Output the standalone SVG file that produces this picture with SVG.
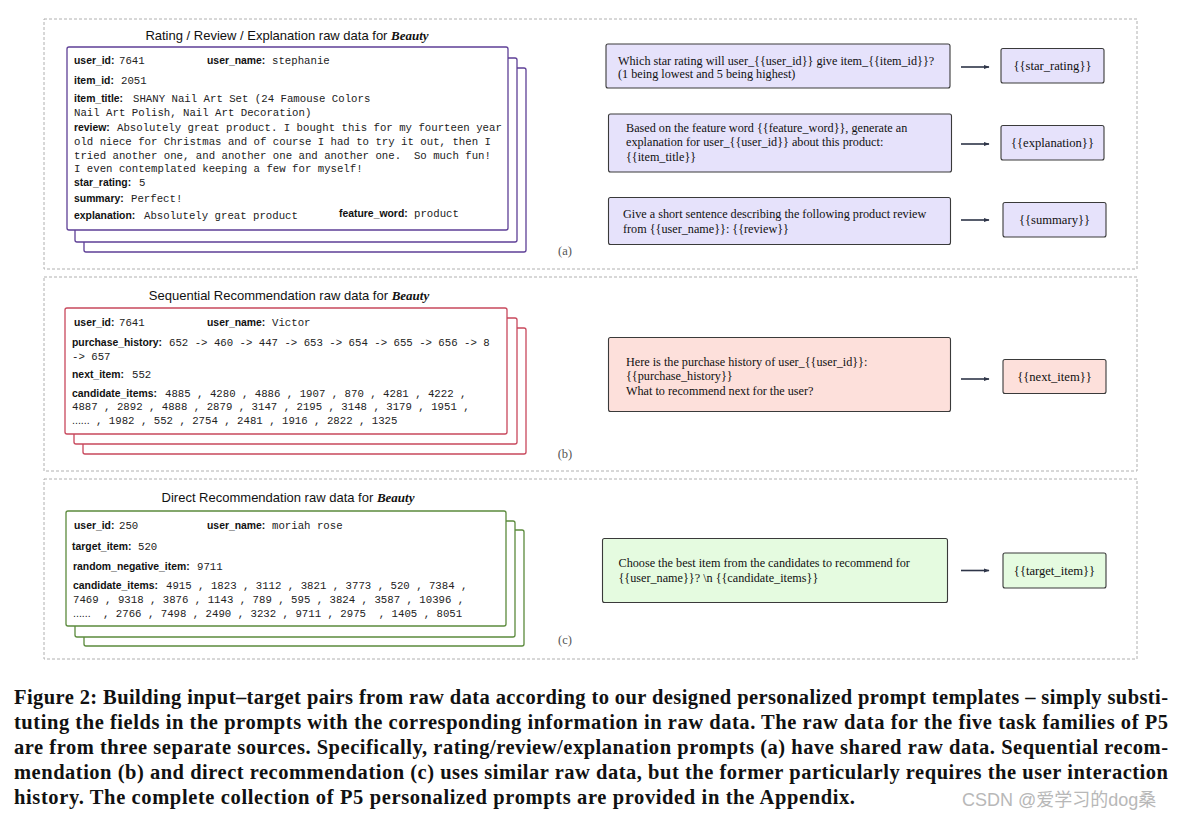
<svg xmlns="http://www.w3.org/2000/svg" width="1180" height="818" viewBox="0 0 1180 818">
<defs>
<marker id="ah" viewBox="0 0 10 10" refX="9" refY="5" markerWidth="6" markerHeight="6" orient="auto" markerUnits="userSpaceOnUse">
<path d="M0,1.5 L10,5 L0,8.5 z" fill="#2e3548"/>
</marker>
<style>
.panel{fill:none;stroke:#b0b0b0;stroke-width:1;stroke-dasharray:3,2}
.title{font-family:"Liberation Sans",Arial,sans-serif;font-size:13px;fill:#111;text-anchor:middle}
.beauty{font-family:"Liberation Serif","Times New Roman",serif;font-style:italic;font-weight:bold}
.pu{fill:#fff;stroke:#5e3f96;stroke-width:1.3}
.rd{fill:#fff;stroke:#c8485c;stroke-width:1.3}
.gr{fill:#fff;stroke:#5b8a3c;stroke-width:1.3}
.lb{font-family:"Liberation Sans",Arial,sans-serif;font-size:10.4px;font-weight:bold;fill:#111}
.mono{font-family:"Liberation Mono","Courier New",monospace;font-size:10.7px;fill:#222;white-space:pre}
.dots{font-family:"Liberation Sans",Arial,sans-serif;font-size:10.6px;fill:#222}
.tp{stroke:#3a3a3a;stroke-width:1.1}
.tpa{fill:#e6e2fb}
.tpb{fill:#fde0db}
.tpc{fill:#e5fbe0}
.st{font-family:"Liberation Serif","Times New Roman",serif;font-size:12.2px;fill:#111;white-space:pre}
.oc{font-family:"Liberation Serif","Times New Roman",serif;font-size:12.6px;fill:#111;text-anchor:middle}
.conn{stroke:#2e3548;stroke-width:1.6;fill:none}
.sub{font-family:"Liberation Serif","Times New Roman",serif;font-size:12.5px;fill:#555;text-anchor:middle}
.cap{font-family:"Liberation Serif","Times New Roman",serif;font-size:20.5px;font-weight:bold;fill:#111}
.wm{font-family:"Liberation Sans","Noto Sans CJK SC",sans-serif;font-size:18px;fill:#b8b8b8}
</style>
</defs>
<rect width="1180" height="818" fill="#fff"/>

<!-- panels -->
<g id="panels">
<rect class="panel" x="44" y="19" width="1093" height="250"/>
<rect class="panel" x="44" y="277" width="1093" height="194"/>
<rect class="panel" x="44" y="479" width="1093" height="180"/>
<text class="sub" x="565" y="255">(a)</text>
<text class="sub" x="565" y="458">(b)</text>
<text class="sub" x="565" y="644">(c)</text>
</g>

<!-- panel a raw data -->
<g id="raw-a">
<text class="title" x="287" y="39.5">Rating / Review / Explanation raw data for <tspan class="beauty">Beauty</tspan></text>
<rect class="pu" x="84" y="68" width="442" height="184" rx="2"/>
<rect class="pu" x="75" y="58" width="442" height="184" rx="2"/>
<rect class="pu" x="67" y="47" width="441" height="183" rx="2"/>
<text class="lb" x="74" y="64">user_id:</text><text class="mono" x="119" y="64">7641</text>
<text class="lb" x="207" y="64">user_name:</text><text class="mono" x="272" y="64">stephanie</text>
<text class="lb" x="74" y="84">item_id:</text><text class="mono" x="121" y="84">2051</text>
<text class="lb" x="74" y="102">item_title:</text><text class="mono" x="133" y="102">SHANY Nail Art Set (24 Famouse Colors</text>
<text class="mono" x="74" y="116">Nail Art Polish, Nail Art Decoration)</text>
<text class="lb" x="74" y="131">review:</text><text class="mono" x="117" y="131">Absolutely great product. I bought this for my fourteen year</text>
<text class="mono" x="74" y="145">old niece for Christmas and of course I had to try it out, then I</text>
<text class="mono" x="74" y="159">tried another one, and another one and another one.  So much fun!</text>
<text class="mono" x="74" y="172">I even contemplated keeping a few for myself!</text>
<text class="lb" x="74" y="186">star_rating:</text><text class="mono" x="139" y="186">5</text>
<text class="lb" x="74" y="202">summary:</text><text class="mono" x="131" y="202">Perfect!</text>
<text class="lb" x="74" y="219">explanation:</text><text class="mono" x="144" y="219">Absolutely great product</text>
<text class="lb" x="339" y="217">feature_word:</text><text class="mono" x="414" y="217">product</text>
</g>

<!-- panel b raw data -->
<g id="raw-b">
<text class="title" x="289" y="299.5">Sequential Recommendation raw data for <tspan class="beauty">Beauty</tspan></text>
<rect class="rd" x="83" y="328" width="443" height="126" rx="2"/>
<rect class="rd" x="74" y="318" width="443" height="126" rx="2"/>
<rect class="rd" x="65" y="308" width="442" height="126" rx="2"/>
<text class="lb" x="74" y="326">user_id:</text><text class="mono" x="119" y="326">7641</text>
<text class="lb" x="207" y="326">user_name:</text><text class="mono" x="272" y="326">Victor</text>
<text class="lb" x="72" y="346">purchase_history:</text><text class="mono" x="169" y="346">652 -&gt; 460 -&gt; 447 -&gt; 653 -&gt; 654 -&gt; 655 -&gt; 656 -&gt; 8</text>
<text class="mono" x="72" y="360">-&gt; 657</text>
<text class="lb" x="72" y="378">next_item:</text><text class="mono" x="132" y="378">552</text>
<text class="lb" x="72" y="397">candidate_items:</text><text class="mono" x="165" y="397">4885 , 4280 , 4886 , 1907 , 870 , 4281 , 4222 ,</text>
<text class="mono" x="72" y="410">4887 , 2892 , 4888 , 2879 , 3147 , 2195 , 3148 , 3179 , 1951 ,</text>
<text class="dots" x="72" y="424">......</text><text class="mono" x="96" y="424">, 1982 , 552 , 2754 , 2481 , 1916 , 2822 , 1325</text>
</g>

<!-- panel c raw data -->
<g id="raw-c">
<text class="title" x="288" y="501.5">Direct Recommendation raw data for <tspan class="beauty">Beauty</tspan></text>
<rect class="gr" x="84" y="530" width="440" height="116" rx="2"/>
<rect class="gr" x="75" y="521" width="440" height="116" rx="2"/>
<rect class="gr" x="66" y="511" width="440" height="115" rx="2"/>
<text class="lb" x="74" y="529">user_id:</text><text class="mono" x="119" y="529">250</text>
<text class="lb" x="207" y="529">user_name:</text><text class="mono" x="272" y="529">moriah rose</text>
<text class="lb" x="72" y="550">target_item:</text><text class="mono" x="138" y="550">520</text>
<text class="lb" x="73" y="570">random_negative_item:</text><text class="mono" x="197" y="570">9711</text>
<text class="lb" x="73" y="589">candidate_items:</text><text class="mono" x="166" y="589">4915 , 1823 , 3112 , 3821 , 3773 , 520 , 7384 ,</text>
<text class="mono" x="73" y="603">7469 , 9318 , 3876 , 1143 , 789 , 595 , 3824 , 3587 , 10396 ,</text>
<text class="dots" x="73" y="617">......</text><text class="mono" x="103" y="617">, 2766 , 7498 , 2490 , 3232 , 9711 , 2975  , 1405 , 8051</text>
</g>

<!-- templates -->
<g id="tpl-rating">
<rect class="tp tpa" x="606" y="44" width="344" height="44" rx="2"/>
<text class="st" x="618" y="64.5">Which star rating will user_{{user_id}} give item_{{item_id}}?</text>
<text class="st" x="618" y="78">(1 being lowest and 5 being highest)</text>
</g>
<g id="out-rating">
<rect class="tp tpa" x="1001" y="48.5" width="103" height="34.5" rx="2"/>
<text class="oc" x="1052.5" y="70">{{star_rating}}</text>
</g>
<g id="tpl-expl">
<rect class="tp tpa" x="608.5" y="114" width="343" height="58" rx="2"/>
<text class="st" x="626" y="131.5">Based on the feature word {{feature_word}}, generate an</text>
<text class="st" x="626" y="146">explanation for user_{{user_id}} about this product:</text>
<text class="st" x="626" y="160.5">{{item_title}}</text>
</g>
<g id="out-expl">
<rect class="tp tpa" x="1001" y="125.5" width="103" height="34.5" rx="2"/>
<text class="oc" x="1052.5" y="147">{{explanation}}</text>
</g>
<g id="tpl-summary">
<rect class="tp tpa" x="608.5" y="197.5" width="342" height="47" rx="2"/>
<text class="st" x="623" y="217.5">Give a short sentence describing the following product review</text>
<text class="st" x="623" y="232.5">from {{user_name}}: {{review}}</text>
</g>
<g id="out-summary">
<rect class="tp tpa" x="1003" y="202.5" width="103" height="34.5" rx="2"/>
<text class="oc" x="1054.5" y="224">{{summary}}</text>
</g>
<g id="tpl-seq">
<rect class="tp tpb" x="608.5" y="337.5" width="342" height="74" rx="2"/>
<text class="st" x="626" y="365.5">Here is the purchase history of user_{{user_id}}:</text>
<text class="st" x="626" y="380">{{purchase_history}}</text>
<text class="st" x="626" y="394.5">What to recommend next for the user?</text>
</g>
<g id="out-seq">
<rect class="tp tpb" x="1003" y="359.5" width="103" height="34" rx="2"/>
<text class="oc" x="1054.5" y="381">{{next_item}}</text>
</g>
<g id="tpl-direct">
<rect class="tp tpc" x="602.5" y="538.5" width="345" height="64" rx="2"/>
<text class="st" x="618.5" y="567">Choose the best item from the candidates to recommend for</text>
<text class="st" x="618.5" y="581.5">{{user_name}}? \n {{candidate_items}}</text>
</g>
<g id="out-direct">
<rect class="tp tpc" x="1003" y="553" width="103" height="35" rx="2"/>
<text class="oc" x="1054.5" y="574.5">{{target_item}}</text>
</g>

<!-- connectors -->
<g id="connectors">
<line class="conn" x1="961" y1="67" x2="989" y2="67" marker-end="url(#ah)"/>
<line class="conn" x1="961" y1="144" x2="989" y2="144" marker-end="url(#ah)"/>
<line class="conn" x1="961" y1="220" x2="989" y2="220" marker-end="url(#ah)"/>
<line class="conn" x1="961" y1="379" x2="989" y2="379" marker-end="url(#ah)"/>
<line class="conn" x1="961" y1="570.5" x2="989" y2="570.5" marker-end="url(#ah)"/>
</g>

<!-- caption -->
<g id="caption">
<text class="cap" x="14" y="704" textLength="1154" lengthAdjust="spacing">Figure 2: Building input–target pairs from raw data according to our designed personalized prompt templates – simply substi-</text>
<text class="cap" x="14" y="729" textLength="1154" lengthAdjust="spacing">tuting the fields in the prompts with the corresponding information in raw data. The raw data for the five task families of P5</text>
<text class="cap" x="14" y="754" textLength="1154" lengthAdjust="spacing">are from three separate sources. Specifically, rating/review/explanation prompts (a) have shared raw data. Sequential recom-</text>
<text class="cap" x="14" y="779" textLength="1154" lengthAdjust="spacing">mendation (b) and direct recommendation (c) uses similar raw data, but the former particularly requires the user interaction</text>
<text class="cap" x="14" y="804" textLength="841" lengthAdjust="spacing">history. The complete collection of P5 personalized prompts are provided in the Appendix.</text>
</g>
<text class="wm" x="962" y="806">CSDN @爱学习的dog桑</text>
</svg>
